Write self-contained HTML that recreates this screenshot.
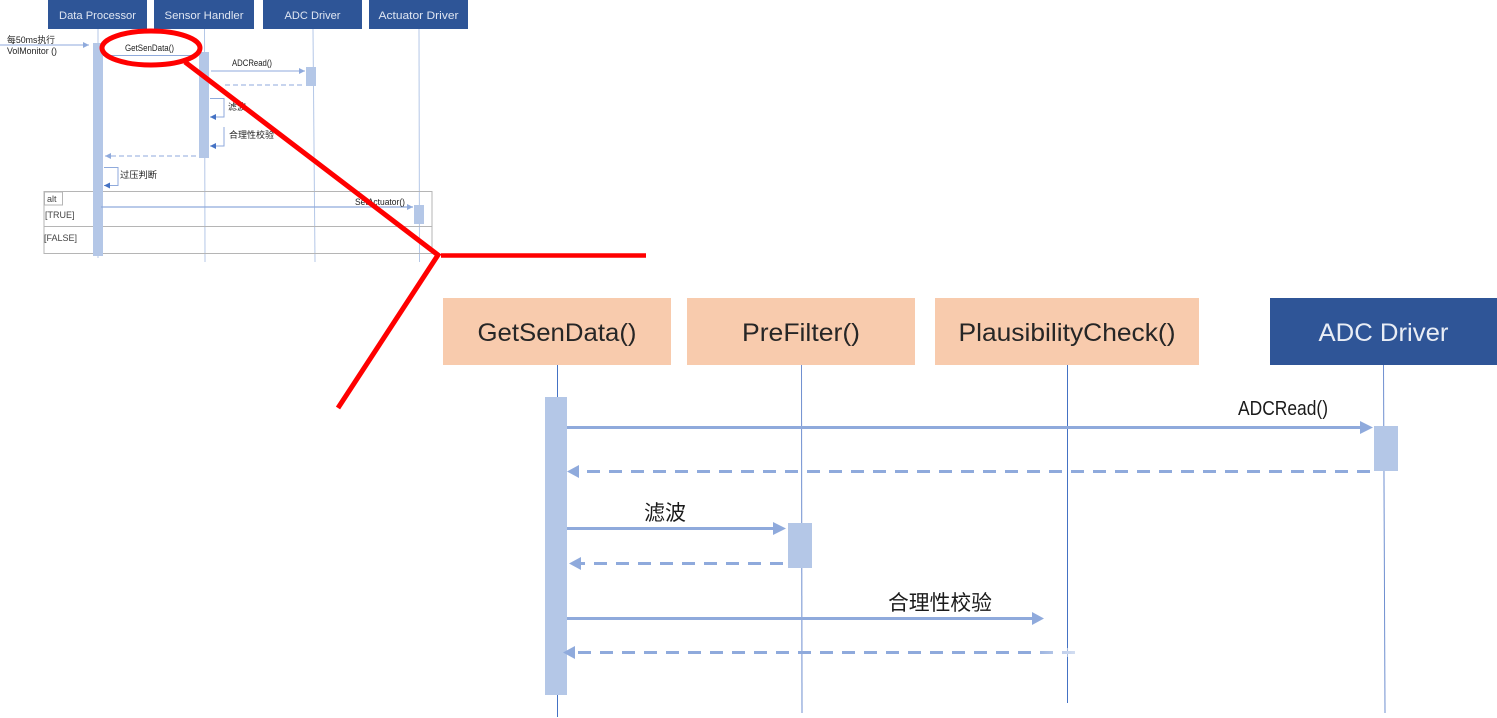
<!DOCTYPE html>
<html>
<head>
<meta charset="utf-8">
<style>
html,body{margin:0;padding:0;background:#fff;width:1497px;height:718px;overflow:hidden}
svg{display:block}
text{font-family:"Liberation Sans","Noto Sans CJK SC",sans-serif}
</style>
</head>
<body>
<svg width="1497" height="718" viewBox="0 0 1497 718" xmlns="http://www.w3.org/2000/svg">
<defs>
<marker id="s" markerWidth="8" markerHeight="8" refX="6" refY="3" orient="auto" markerUnits="userSpaceOnUse"><path d="M0 0L6 3L0 6Z" fill="#8faadc"/></marker>
<marker id="sd" markerWidth="8" markerHeight="8" refX="6" refY="3" orient="auto" markerUnits="userSpaceOnUse"><path d="M0 0L6 3L0 6Z" fill="#4472c4"/></marker>
<filter id="soft" x="0" y="0" width="100%" height="100%"><feGaussianBlur stdDeviation="0.35"/></filter>
<linearGradient id="fade" x1="0" x2="1" y1="0" y2="0"><stop offset="0" stop-color="#fff" stop-opacity="0.1"/><stop offset="1" stop-color="#fff" stop-opacity="0.65"/></linearGradient>
</defs>

<g filter="url(#soft)">
<!-- small diagram lifelines -->
<g stroke="#b4c7e7" stroke-width="1" fill="none">
<line x1="98" y1="29" x2="98" y2="258"/>
<line x1="204.500" y1="29" x2="205" y2="262"/>
<line x1="313" y1="29" x2="315" y2="262"/>
<line x1="419" y1="29" x2="419.500" y2="262"/>
</g>

<!-- alt frame -->
<g stroke="#b5b5b5" stroke-width="1" fill="none">
<rect x="44" y="191.500" width="388" height="62"/>
<line x1="44" y1="226.500" x2="432" y2="226.500"/>
<rect x="44.500" y="192" width="18" height="13" fill="#fff"/>
</g>
<text x="47" y="202" font-size="9" fill="#444">alt</text>
<text x="45" y="218" font-size="9" fill="#444">[TRUE]</text>
<text x="44" y="241" font-size="9" fill="#444">[FALSE]</text>

<!-- small activations -->
<g fill="#b4c7e7">
<rect x="93" y="43" width="10" height="213"/>
<rect x="199" y="52" width="10" height="106"/>
<rect x="306" y="67" width="10" height="19"/>
<rect x="414" y="205" width="10" height="19"/>
</g>

<!-- small headers -->
<g fill="#2f5597">
<rect x="48" y="0" width="99" height="29"/>
<rect x="154" y="0" width="100" height="29"/>
<rect x="263" y="0" width="99" height="29"/>
<rect x="369" y="0" width="99" height="29"/>
</g>
<g font-size="11" fill="#dfe6f2" text-anchor="middle">
<text x="97.500" y="19" textLength="77" lengthAdjust="spacingAndGlyphs">Data Processor</text>
<text x="204" y="19" textLength="79" lengthAdjust="spacingAndGlyphs">Sensor Handler</text>
<text x="312.500" y="19" textLength="56" lengthAdjust="spacingAndGlyphs">ADC Driver</text>
<text x="418.500" y="19" textLength="80" lengthAdjust="spacingAndGlyphs">Actuator Driver</text>
</g>

<!-- small messages -->
<g stroke="#8faadc" stroke-width="1" fill="none">
<line x1="0" y1="45" x2="89" y2="45" marker-end="url(#s)"/>
<line x1="103" y1="55.500" x2="198" y2="55.500"/>
<line x1="211" y1="71" x2="305" y2="71" marker-end="url(#s)"/>
<line x1="225" y1="85" x2="305" y2="85" stroke-dasharray="5 3"/>
<line x1="196" y1="156" x2="105" y2="156" stroke-dasharray="5 3" marker-end="url(#s)"/>
<line x1="101" y1="207" x2="413" y2="207" stroke-width="1.200" marker-end="url(#s)"/>
</g>
<g stroke="#8faadc" stroke-width="1" fill="none">
<path d="M210 98.500H224V117H210" marker-end="url(#sd)"/>
<path d="M224 127V146H210" marker-end="url(#sd)"/>
<path d="M104 167.500H118V185.500H104" marker-end="url(#sd)"/>
</g>
<g font-size="9" fill="#222">
<text x="7" y="43" textLength="48" lengthAdjust="spacingAndGlyphs">每50ms执行</text>
<text x="7" y="54" textLength="50" lengthAdjust="spacingAndGlyphs">VolMonitor ()</text>
<text x="125" y="51" textLength="49" lengthAdjust="spacingAndGlyphs">GetSenData()</text>
<text x="232" y="66" textLength="40" lengthAdjust="spacingAndGlyphs">ADCRead()</text>
<text x="228" y="110">滤波</text>
<text x="229" y="138" textLength="45" lengthAdjust="spacingAndGlyphs">合理性校验</text>
<text x="120" y="178" textLength="37" lengthAdjust="spacingAndGlyphs">过压判断</text>
<text x="355" y="205" textLength="50" lengthAdjust="spacingAndGlyphs">SetActuator()</text>
</g>
</g>

<!-- red callout -->
<g fill="none" stroke="#ff0000" stroke-width="5">
<ellipse cx="151" cy="48" rx="49" ry="17"/>
<path d="M185 62L438 255L338 408"/>
<line x1="441" y1="255.500" x2="646" y2="255.500" stroke-width="4.500"/>
</g>

<!-- big lifelines -->
<g stroke="#4472c4" stroke-width="1" fill="none">
<line x1="557.500" y1="365" x2="557.500" y2="717"/>
<line x1="801.500" y1="365" x2="802" y2="713" stroke="#6f8fd0"/>
<line x1="1067.500" y1="365" x2="1067.500" y2="703"/>
<line x1="1383.500" y1="365" x2="1385" y2="713" stroke="#6f8fd0"/>
</g>

<!-- big headers -->
<g fill="#f8cbad">
<rect x="443" y="298" width="228" height="67"/>
<rect x="687" y="298" width="228" height="67"/>
<rect x="935" y="298" width="264" height="67"/>
</g>
<rect x="1270" y="298" width="227" height="67" fill="#2f5597"/>
<g font-size="25" fill="#262626" text-anchor="middle">
<text x="557" y="341" textLength="159" lengthAdjust="spacingAndGlyphs">GetSenData()</text>
<text x="801" y="341" textLength="118" lengthAdjust="spacingAndGlyphs">PreFilter()</text>
<text x="1067" y="341" textLength="217" lengthAdjust="spacingAndGlyphs">PlausibilityCheck()</text>
<text x="1383.500" y="341" fill="#e9edf5" textLength="130" lengthAdjust="spacingAndGlyphs">ADC Driver</text>
</g>

<!-- big activations -->
<g fill="#b4c7e7">
<rect x="545" y="397" width="22" height="298"/>
<rect x="788" y="523" width="24" height="45"/>
<rect x="1374" y="426" width="24" height="45"/>
</g>

<!-- big messages -->
<g stroke="#8faadc" stroke-width="3" fill="none">
<line x1="567" y1="427.500" x2="1362" y2="427.500"/>
<line x1="567" y1="528.500" x2="775" y2="528.500"/>
<line x1="567" y1="618.500" x2="1033" y2="618.500"/>
<line x1="1370" y1="471.500" x2="578" y2="471.500" stroke-dasharray="13 9"/>
<line x1="783" y1="563.500" x2="580" y2="563.500" stroke-dasharray="13 9"/>
<line x1="1075" y1="652.500" x2="574" y2="652.500" stroke-dasharray="13 9"/>
</g>
<g fill="#8faadc">
<path d="M1360 421L1373 427.500L1360 434Z"/>
<path d="M773 522L786 528.500L773 535Z"/>
<path d="M1032 612L1044 618.500L1032 625Z"/>
<path d="M579 465L567 471.500L579 478Z"/>
<path d="M581 557L569 563.500L581 570Z"/>
<path d="M575 646L563 652.500L575 659Z"/>
</g>
<rect x="1038" y="648" width="40" height="9" fill="url(#fade)"/>
<g font-size="20" fill="#1a1a1a">
<text x="1238" y="415" textLength="90" lengthAdjust="spacingAndGlyphs">ADCRead()</text>
<text x="644" y="520" font-size="21">滤波</text>
<text x="888" y="610" font-size="20.800">合理性校验</text>
</g>
</svg>
</body>
</html>
